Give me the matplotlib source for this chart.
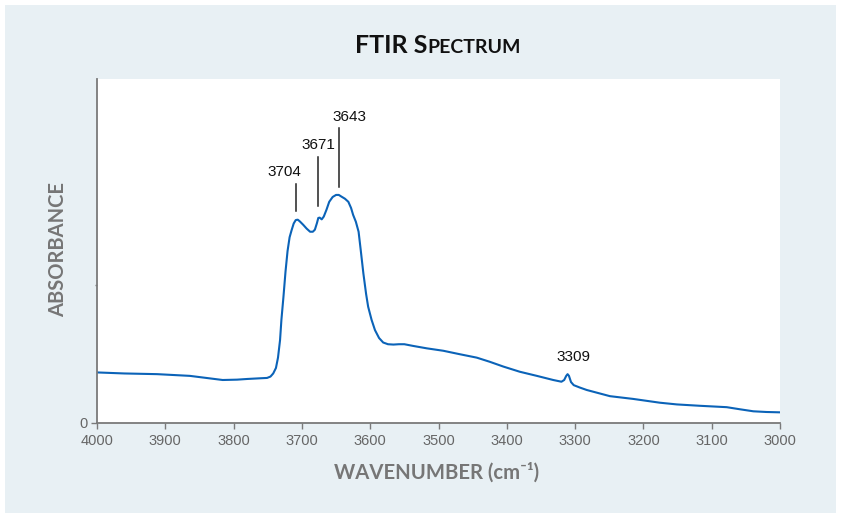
import matplotlib
matplotlib.use("Agg")
import matplotlib.pyplot as plt
from matplotlib.patches import Rectangle

# ---- data ----
wavenumber = [4000, 3960, 3912, 3864, 3840, 3816, 3795, 3780, 3761, 3751, 3746, 3742,
              3738, 3735, 3732, 3730, 3727, 3724, 3721, 3718, 3715, 3712, 3709, 3706,
              3703, 3698, 3693, 3688, 3684, 3681, 3678, 3676, 3674, 3671, 3668, 3664,
              3660, 3655, 3650, 3646, 3642, 3637, 3632, 3628, 3625, 3621, 3617, 3614,
              3610, 3606, 3603, 3598, 3593, 3587, 3581, 3574, 3566, 3558, 3550, 3537,
              3517, 3493, 3469, 3444, 3425, 3405, 3381, 3356, 3332, 3320, 3316, 3313,
              3311, 3309, 3306, 3302, 3293, 3283, 3266, 3249, 3215, 3176, 3151, 3117,
              3078, 3059, 3039, 3020, 3000]
absorbance = [0.147, 0.144, 0.142, 0.137, 0.131, 0.125, 0.126, 0.128, 0.130, 0.131, 0.135, 0.144,
              0.160, 0.190, 0.241, 0.300, 0.367, 0.440, 0.500, 0.540, 0.561, 0.580, 0.590, 0.591,
              0.586, 0.576, 0.565, 0.556, 0.556, 0.562, 0.581, 0.596, 0.597, 0.592, 0.600, 0.620,
              0.643, 0.657, 0.663, 0.663, 0.658, 0.652, 0.643, 0.625, 0.605, 0.585, 0.556, 0.505,
              0.435, 0.375, 0.338, 0.300, 0.270, 0.247, 0.234, 0.229, 0.228, 0.229, 0.229, 0.224,
              0.217, 0.210, 0.200, 0.190, 0.178, 0.164, 0.149, 0.137, 0.125, 0.120, 0.125, 0.137,
              0.142, 0.137, 0.119, 0.110, 0.103, 0.096, 0.087, 0.078, 0.070, 0.059, 0.054, 0.050,
              0.046, 0.040, 0.034, 0.032, 0.031]

peak_labels = ["3704", "3671", "3643"]
peak_pos = [3708, 3676, 3646]
peak_line_lo = [0.616, 0.631, 0.686]
peak_line_hi = [0.695, 0.773, 0.858]
peak_text_x = [3726, 3676, 3630]
peak_text_y = [0.730, 0.808, 0.890]

small_label = "3309"
small_label_x = [3302]
small_label_y = [0.192]

xticks = [4000, 3900, 3800, 3700, 3600, 3500, 3400, 3300, 3200, 3100, 3000]

# ---- figure ----
W, H = 841, 518
fig = plt.figure(figsize=(W / 100, H / 100), dpi=100)
fig.patch.set_facecolor("white")
bg = "#e8f0f4"
fig.patches.append(Rectangle((5 / W, 5 / H), (W - 10) / W, (H - 10) / H,
                             transform=fig.transFigure, facecolor=bg,
                             edgecolor="none", zorder=-10))

ax = fig.add_axes([97 / W, 1 - 423 / H, 683 / W, 344 / H])
ax.set_facecolor("white")
ax.plot(wavenumber, absorbance, color="#0b63b8", lw=1.5, solid_joinstyle="round",
        solid_capstyle="round")

ax.set_xlim(4000, 3000)
ax.set_ylim(0, 1.0)
for s in ["top", "right"]:
    ax.spines[s].set_visible(False)
for s in ["left", "bottom"]:
    ax.spines[s].set_color("#7a7a7a")
    ax.spines[s].set_linewidth(1.3)

ax.set_xticks(xticks)
ax.set_xticklabels([str(t) for t in xticks])
ax.set_yticks([0, 0.4])
ax.set_yticklabels(["0", ""])
ax.tick_params(axis="x", direction="out", length=4, width=1, color="#7a7a7a",
               labelcolor="#666666", labelsize=10.5, pad=4)
ax.tick_params(axis="y", direction="out", length=4, width=1, color="#7a7a7a",
               labelcolor="#666666", labelsize=10.5, pad=3)
ax.yaxis.get_major_ticks()[1].tick1line.set_markersize(1.5)
for lab in ax.get_xticklabels() + ax.get_yticklabels():
    lab.set_fontfamily("Liberation Sans")

# peak annotations
for lab, xp, lo, hi, tx, ty in zip(peak_labels, peak_pos, peak_line_lo, peak_line_hi,
                                   peak_text_x, peak_text_y):
    ax.plot([xp, xp], [lo, hi], color="#222222", lw=1.1)
    ax.text(tx, ty, lab, ha="center", va="center", fontsize=11,
            family="Liberation Sans", color="#111111")
ax.text(small_label_x[0], small_label_y[0], small_label, ha="center", va="center",
        fontsize=11, family="Liberation Sans", color="#111111")

# axis labels
fig.text(58 / W, 1 - 250 / H, "ABSORBANCE", rotation=90, ha="center", va="center",
         fontsize=14.5, fontweight="bold", color="#767676", family="Lato")
fig.text(437 / W, 1 - 473 / H, "WAVENUMBER (cm\u207b\u00b9)", ha="center", va="center",
         fontsize=14.6, fontweight="bold", color="#767676", family=["Lato", "DejaVu Sans"])

# title in small caps
renderer = fig.canvas.get_renderer()
t1 = fig.text(0, 0, "FTIR S", fontsize=18, fontweight="bold", family="Lato",
              color="#111111", va="baseline")
t2 = fig.text(0, 0, "PECTRUM", fontsize=14, fontweight="bold", family="Lato",
              color="#111111", va="baseline")
w1 = t1.get_window_extent(renderer).width
w2 = t2.get_window_extent(renderer).width
total = w1 + w2
x0 = (438 - total / 2)
base = 1 - 53 / H
t1.set_position((x0 / W, base))
t2.set_position(((x0 + w1) / W, base))

fig.savefig("out.png", dpi=100, facecolor=fig.get_facecolor())
